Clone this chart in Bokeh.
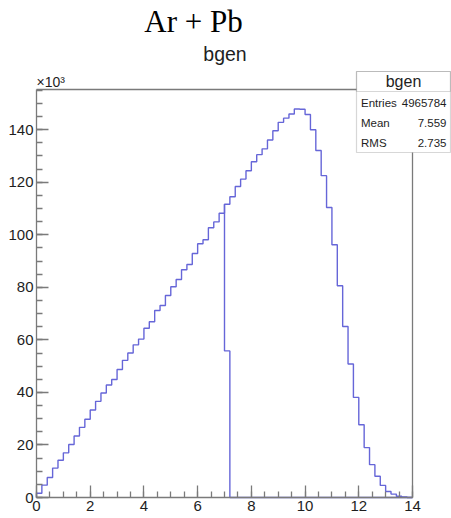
import numpy as np
from bokeh.plotting import figure
from bokeh.models import Range1d, SingleIntervalTicker, LinearAxis, FixedTicker, Label, BoxAnnotation
from bokeh.embed import file_html
from bokeh.resources import INLINE

# ---------------- data ----------------
main_title = "Ar + Pb"
hist_name = "bgen"
bin_low = 0.0
bin_width = 0.2
# entries per 0.2-wide bin, in thousands (axis shows x10^3)
counts_k = [1.6, 4.7, 7.6, 11.2, 14.2, 17.0, 20.2, 23.4, 26.7, 29.8,
            33.3, 36.6, 39.8, 42.8, 44.9, 48.7, 52.2, 55.0, 58.1, 60.3,
            64.4, 66.9, 71.2, 73.1, 76.9, 80.2, 83.0, 86.7, 88.7, 92.9,
            96.6, 98.1, 102.7, 104.9, 108.2, 111.6, 114.5, 118.4, 121.2, 124.4,
            127.8, 130.5, 132.7, 136.1, 139.6, 142.8, 144.4, 146.0, 147.9, 147.8,
            145.8, 140.0, 132.1, 122.5, 110.4, 96.2, 80.6, 65.1, 50.8, 38.1,
            27.7, 19.0, 12.5, 8.1, 4.6, 2.3, 1.3, 0.5, 0.2, 0.0]
split_bin = 35          # bin where the drawn outline shows the half-height artefact
stats_labels = ["Entries", "Mean", "RMS"]
stats_values = ["4965784", "7.559", "2.735"]
x_tick_step = 2
y_tick_step = 20
y_multiplier_label = "\u00d710\u00b3"

# ---------------- geometry (pixels of the histogram frame) ----------------
W, H = 451, 518
FL, FR, FT, FB = 36, 412, 89, 497
n_bins = len(counts_k)
x_max = bin_low + bin_width * n_bins
y_max = 155.3

def px2x(px):
    return bin_low + (x_max - bin_low) * (px - FL) / (FR - FL)

def py2y(py):
    return y_max * (FB - py) / (FB - FT)

AX = "#7a7a7a"
TXT = "#1e1e1e"
LINE = "#6666d8"

# the plotting frame covers the whole canvas; axes are pinned at the histogram frame
p = figure(width=W, height=H, output_backend="svg", toolbar_location=None,
           x_range=Range1d(px2x(0), px2x(W)), y_range=Range1d(py2y(H), py2y(0)),
           x_axis_type=None, y_axis_type=None, min_border=0)
p.grid.visible = False
p.outline_line_color = None
p.background_fill_color = "white"
p.border_fill_color = "white"

def style_axis(ax, step):
    ax.ticker = SingleIntervalTicker(interval=step, num_minor_ticks=4)
    ax.major_tick_in = 12
    ax.major_tick_out = 0
    ax.minor_tick_in = 6
    ax.minor_tick_out = 0
    ax.axis_line_color = AX
    ax.axis_line_width = 1.3
    ax.major_tick_line_color = AX
    ax.minor_tick_line_color = AX
    ax.major_tick_line_width = 1.3
    ax.minor_tick_line_width = 1.3
    ax.major_label_text_font = "Liberation Sans"
    ax.major_label_text_font_size = "15px"
    ax.major_label_text_color = TXT
    ax.major_label_standoff = 3

xaxis = LinearAxis(fixed_location=0, bounds=(bin_low, x_max))
style_axis(xaxis, x_tick_step)
p.add_layout(xaxis, "below")
yaxis = LinearAxis(fixed_location=bin_low, bounds=(0, y_max))
style_axis(yaxis, y_tick_step)
p.add_layout(yaxis, "left")

# top / right frame borders
for loc, fl, bnds in (("below", y_max, (bin_low, x_max)), ("left", x_max, (0, y_max))):
    b = LinearAxis(fixed_location=fl, bounds=bnds, ticker=FixedTicker(ticks=[]),
                   axis_line_color=AX, axis_line_width=1.3,
                   major_tick_in=0, major_tick_out=0, minor_tick_in=0, minor_tick_out=0,
                   major_label_text_font_size="0px")
    p.add_layout(b, loc)

# histogram outline
edges = bin_low + bin_width * np.arange(n_bins + 1)
vals = np.array(counts_k, dtype=float)
xs = np.concatenate([[edges[0]], np.repeat(edges, 2)[1:-1], [edges[-1]]])
ys = np.concatenate([[0.0], np.repeat(vals, 2), [0.0]])
p.line(xs, ys, line_color=LINE, line_width=1.4)

# artefact of the drawn outline at the split bin
v = vals[split_bin]
axx = [edges[split_bin], edges[split_bin], edges[split_bin + 1], edges[split_bin + 1], edges[-1]]
ayy = [v, v / 2, v / 2, 0.0, 0.0]
p.line(axx, ayy, line_color=LINE, line_width=1.4)

# titles
p.add_layout(Label(x=px2x(193), y=py2y(21), text=main_title, text_align="center",
                   text_baseline="middle", text_font="Liberation Serif",
                   text_font_size="31px", text_color="black"))
p.add_layout(Label(x=px2x(224.5), y=py2y(53), text=hist_name, text_align="center",
                   text_baseline="middle", text_font="Liberation Sans",
                   text_font_size="19.5px", text_color=TXT))
p.add_layout(Label(x=px2x(36), y=py2y(81.5), text=y_multiplier_label, text_align="left",
                   text_baseline="middle", text_font="Liberation Sans",
                   text_font_size="14px", text_color=TXT))

# stats box
p.add_layout(BoxAnnotation(left=px2x(356), right=px2x(450), top=py2y(71), bottom=py2y(152),
                           fill_color="white", fill_alpha=1.0, line_color=AX, line_width=1.2))
p.add_layout(BoxAnnotation(left=px2x(356), right=px2x(450), top=py2y(71), bottom=py2y(91),
                           fill_alpha=0.0, line_color=AX, line_width=1.2))
p.add_layout(Label(x=px2x(403), y=py2y(81), text=hist_name, text_align="center",
                   text_baseline="middle", text_font="Liberation Sans",
                   text_font_size="16px", text_color=TXT))
row_y = [102.5, 122.5, 142.3]
for lab, val, ry in zip(stats_labels, stats_values, row_y):
    p.add_layout(Label(x=px2x(360.5), y=py2y(ry), text=lab, text_align="left",
                       text_baseline="middle", text_font="Liberation Sans",
                       text_font_size="11.5px", text_color=TXT))
    p.add_layout(Label(x=px2x(446), y=py2y(ry), text=val, text_align="right",
                       text_baseline="middle", text_font="Liberation Sans",
                       text_font_size="11.5px", text_color=TXT))

open("out.html", "w").write(file_html(p, INLINE))
